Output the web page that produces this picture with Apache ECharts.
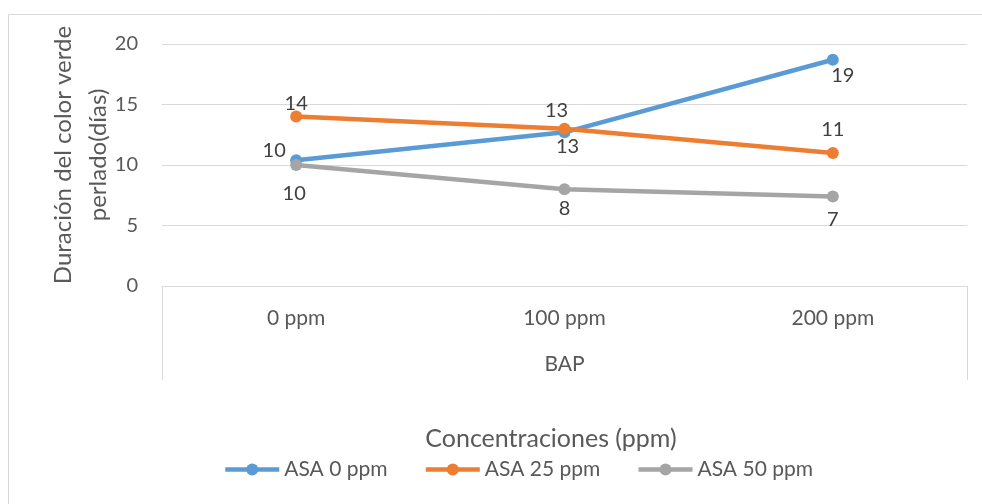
<!DOCTYPE html>
<html>
<head>
<meta charset="utf-8">
<script src="https://cdn.jsdelivr.net/npm/echarts@6/dist/echarts.min.js"></script>
<style>
html,body{margin:0;padding:0;background:#fff;}
#main{width:982px;height:504px;}
</style>
</head>
<body>
<div id="main"></div>
<script>
// ---- data ----
var categories = ['0 ppm', '100 ppm', '200 ppm'];
var groupLabel = ['BAP'];
var seriesNames = ['ASA 0 ppm', 'ASA 25 ppm', 'ASA 50 ppm'];
var asa0 = [10.4, 12.7, 18.7];
var asa25 = [14.0, 13.0, 11.0];
var asa50 = [10.0, 8.0, 7.4];
var yTicks = [0, 5, 10, 15, 20];

// ---- styles (not data) ----
var colors = ['#5b9bd5', '#ed7d31', '#a5a5a5'];
var labelOffsets = [
  [[-22, -10], [3, 14], [10, 16]],
  [[0, -13], [-8, -18], [0, -23]],
  [[-2, 29], [0, 19], [0, 23]]
];
var FONT = 'Lato';
var TXT = '#595959';

var chart = echarts.init(document.getElementById('main'), null, {renderer: 'canvas'});

function mkSeries(name, values, idx) {
  return {
    name: name,
    type: 'line',
    data: values.map(function (v, i) {
      return {
        value: v,
        label: {offset: labelOffsets[idx][i]}
      };
    }),
    symbol: 'circle',
    symbolSize: 12,
    lineStyle: {width: 4.5, color: colors[idx]},
    itemStyle: {color: colors[idx]},
    label: {
      show: true,
      position: 'inside',
      align: 'center',
      verticalAlign: 'middle',
      color: '#404040',
      fontFamily: FONT,
      fontSize: 20,
      formatter: function (p) { return String(Math.round(p.value)); }
    },
    emphasis: {disabled: true},
    animation: false,
    z: 3 + idx
  };
}

var option = {
  animation: false,
  color: colors,
  textStyle: {fontFamily: FONT},
  graphic: [{
    type: 'rect',
    shape: {x: 8.5, y: 14.5, width: 1100, height: 700},
    style: {fill: 'none', stroke: '#d9d9d9', lineWidth: 1},
    silent: true,
    z: -10
  }],
  title: {
    text: 'Concentraciones (ppm)',
    left: 546,
    top: 421,
    textAlign: 'center',
    textStyle: {fontFamily: FONT, fontSize: 25, fontWeight: 'normal', color: TXT}
  },
  legend: {
    data: seriesNames,
    left: 218,
    top: 454,
    itemWidth: 54,
    itemHeight: 15,
    itemGap: 36,
    lineStyle: {width: 4.5},
    textStyle: {fontFamily: FONT, fontSize: 21, color: TXT},
    selectedMode: false
  },
  grid: {left: 162, right: 15, top: 44, bottom: 218, containLabel: false},
  xAxis: [{
    type: 'category',
    data: categories,
    boundaryGap: true,
    position: 'bottom',
    axisLine: {show: true, lineStyle: {color: '#d9d9d9', width: 1}},
    axisTick: {show: false},
    axisLabel: {margin: 22, fontFamily: FONT, fontSize: 21, color: TXT}
  }, {
    type: 'category',
    data: groupLabel,
    boundaryGap: true,
    position: 'bottom',
    axisLine: {show: false},
    axisTick: {show: true, length: 94, lineStyle: {color: '#d9d9d9', width: 1}},
    axisLabel: {margin: 68, fontFamily: FONT, fontSize: 21, color: TXT}
  }],
  yAxis: {
    type: 'value',
    min: yTicks[0],
    max: yTicks[yTicks.length - 1],
    interval: 5,
    name: 'Duración del color verde\nperlado(días)',
    nameLocation: 'middle',
    nameGap: 46,
    nameMoveOverlap: false,
    nameRotate: 90,
    nameTextStyle: {fontFamily: FONT, fontSize: 24, color: TXT, lineHeight: 35, padding: [0, 0, 0, 20]},
    axisLine: {show: false},
    axisTick: {show: false},
    axisLabel: {margin: 24, fontFamily: FONT, fontSize: 20, color: TXT},
    splitLine: {lineStyle: {color: '#d9d9d9', width: 1}}
  },
  series: [
    mkSeries(seriesNames[0], asa0, 0),
    mkSeries(seriesNames[1], asa25, 1),
    mkSeries(seriesNames[2], asa50, 2)
  ]
};
chart.setOption(option);
</script>
</body>
</html>
